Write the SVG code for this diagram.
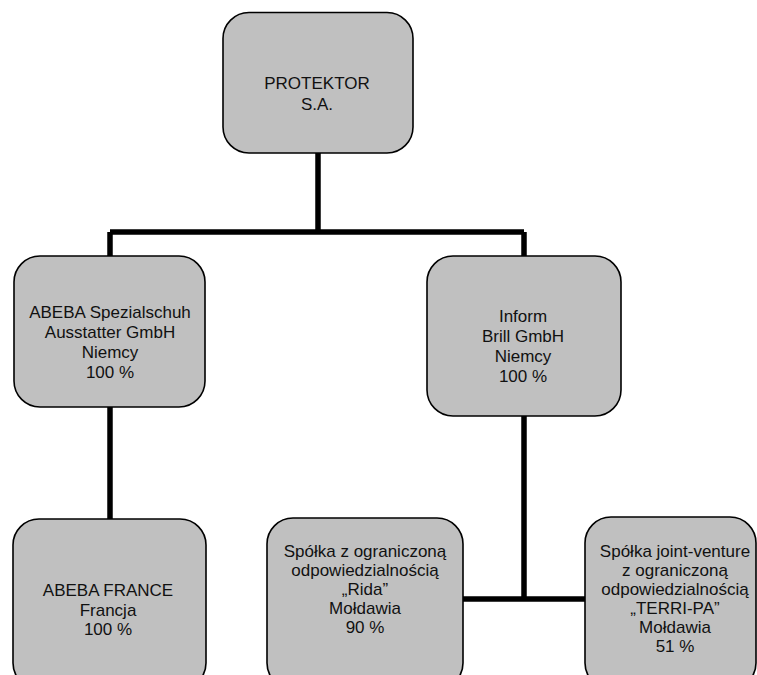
<svg xmlns="http://www.w3.org/2000/svg" width="757" height="675" viewBox="0 0 757 675">
<style>
.box{fill:#c0c0c0;stroke:#000;stroke-width:1.6}
.t{font-family:"Liberation Sans",Arial,sans-serif;font-size:17px;fill:#111;text-anchor:middle}
.c{stroke:#000;stroke-width:5.5;fill:none}
</style>
<rect width="757" height="675" fill="#fff"/>
<g id="connectors">
<path class="c" d="M318 153 V232 M110 232 H524 M110 232 V256 M524 232 V256"/>
<path class="c" d="M110 407 V519"/>
<path class="c" d="M524 416 V599 M463 599 H585"/>
</g>
<g id="protektor">
<rect class="box" x="223" y="12.5" width="190" height="140.5" rx="26"/>
<text class="t" x="317" y="89">PROTEKTOR</text>
<text class="t" x="317" y="110">S.A.</text>
</g>
<g id="abeba">
<rect class="box" x="14" y="256" width="191" height="151" rx="26"/>
<text class="t" x="110" y="318">ABEBA Spezialschuh</text>
<text class="t" x="110" y="338">Ausstatter GmbH</text>
<text class="t" x="110" y="358">Niemcy</text>
<text class="t" x="110" y="378">100 %</text>
</g>
<g id="inform">
<rect class="box" x="427" y="256" width="194" height="160" rx="26"/>
<text class="t" x="523" y="322">Inform</text>
<text class="t" x="523" y="342">Brill GmbH</text>
<text class="t" x="523" y="362">Niemcy</text>
<text class="t" x="523" y="382">100 %</text>
</g>
<g id="abeba-france">
<rect class="box" x="13" y="519" width="193" height="170" rx="26"/>
<text class="t" x="108" y="596">ABEBA FRANCE</text>
<text class="t" x="108" y="616">Francja</text>
<text class="t" x="108" y="635">100 %</text>
</g>
<g id="rida">
<rect class="box" x="267" y="518" width="196" height="171" rx="26"/>
<text class="t" x="365" y="557">Spółka z ograniczoną</text>
<text class="t" x="365" y="576">odpowiedzialnością</text>
<text class="t" x="365" y="595">„Rida”</text>
<text class="t" x="365" y="614">Mołdawia</text>
<text class="t" x="365" y="633">90 %</text>
</g>
<g id="terri-pa">
<rect class="box" x="585" y="517" width="171" height="172" rx="26"/>
<text class="t" x="675" y="557">Spółka joint-venture</text>
<text class="t" x="675" y="576">z ograniczoną</text>
<text class="t" x="675" y="595">odpowiedzialnością</text>
<text class="t" x="675" y="614">„TERRI-PA”</text>
<text class="t" x="675" y="633">Mołdawia</text>
<text class="t" x="675" y="652">51 %</text>
</g>
</svg>
